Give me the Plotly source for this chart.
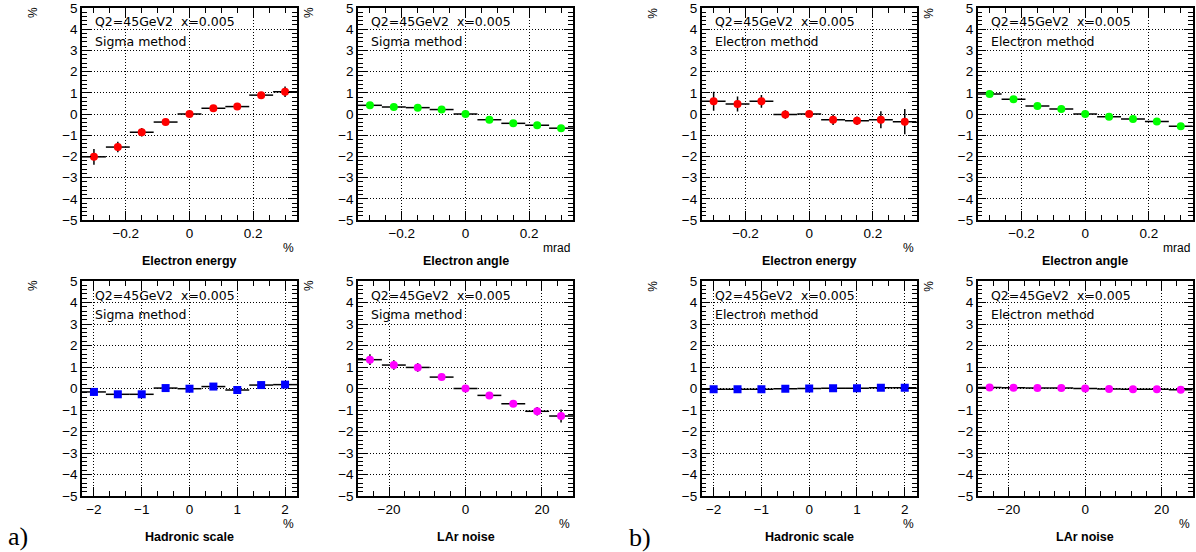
import plotly.graph_objects as go

W, H = 1196, 552

# ---------------- data ----------------
e_shift = [-0.3, -0.225, -0.15, -0.075, 0.0, 0.075, 0.15, 0.225, 0.3]
e_halfbin = [0.0375] * 9
h_shift = [-2.0, -1.5, -1.0, -0.5, 0.0, 0.5, 1.0, 1.5, 2.0]
h_halfbin = [0.25] * 9
n_shift = [-25.0, -18.75, -12.5, -6.25, 0.0, 6.25, 12.5, 18.75, 25.0]
n_halfbin = [3.125] * 9

sig_eenergy = [-2.02, -1.56, -0.86, -0.38, 0.0, 0.27, 0.35, 0.89, 1.05]
sig_eenergy_err = [0.37, 0.25, 0.2, 0.1, 0.03, 0.08, 0.08, 0.12, 0.25]
sig_eangle = [0.41, 0.33, 0.30, 0.21, 0.0, -0.27, -0.44, -0.53, -0.67]
sig_eangle_err = [0.06, 0.05, 0.05, 0.05, 0.02, 0.05, 0.05, 0.08, 0.1]
ele_eenergy = [0.60, 0.47, 0.60, -0.02, 0.0, -0.27, -0.32, -0.27, -0.36]
ele_eenergy_err = [0.45, 0.35, 0.3, 0.2, 0.05, 0.25, 0.2, 0.4, 0.6]
ele_eangle = [0.94, 0.70, 0.38, 0.24, 0.0, -0.13, -0.24, -0.35, -0.58]
ele_eangle_err = [0.12, 0.06, 0.05, 0.05, 0.02, 0.05, 0.05, 0.05, 0.08]

sig_hadr = [-0.16, -0.27, -0.27, 0.02, -0.01, 0.09, -0.07, 0.16, 0.18]
sig_hadr_err = [0.12, 0.1, 0.1, 0.08, 0.05, 0.08, 0.1, 0.15, 0.15]
sig_lar = [1.34, 1.09, 0.98, 0.53, 0.0, -0.32, -0.71, -1.06, -1.28]
sig_lar_err = [0.25, 0.22, 0.2, 0.1, 0.03, 0.15, 0.1, 0.2, 0.3]
ele_hadr = [-0.03, -0.03, -0.03, -0.01, 0.0, 0.01, 0.01, 0.03, 0.03]
ele_hadr_err = [0.02] * 9
ele_lar = [0.05, 0.03, 0.02, 0.02, 0.0, -0.02, -0.03, -0.04, -0.06]
ele_lar_err = [0.02] * 9

header = "Q2=45GeV2\u00a0\u00a0x=0.005"
y_ticks = [-5, -4, -3, -2, -1, 0, 1, 2, 3, 4, 5]

# panel layout in pixels: (left, top, height)
PW = 215
lefts = [82, 358, 701.7, 977.7]
tops = [8, 281]
heights = [212, 215]

panels = [
    (0, 0, e_shift, e_halfbin, sig_eenergy, sig_eenergy_err, "#ff0000", "circle", "Sigma method", "Electron energy", "%", 0.3375, 0.2, 0.05),
    (0, 1, e_shift, e_halfbin, sig_eangle, sig_eangle_err, "#00ff00", "circle", "Sigma method", "Electron angle", "mrad", 0.3375, 0.2, 0.05),
    (0, 2, e_shift, e_halfbin, ele_eenergy, ele_eenergy_err, "#ff0000", "circle", "Electron method", "Electron energy", "%", 0.3375, 0.2, 0.05),
    (0, 3, e_shift, e_halfbin, ele_eangle, ele_eangle_err, "#00ff00", "circle", "Electron method", "Electron angle", "mrad", 0.3375, 0.2, 0.05),
    (1, 0, h_shift, h_halfbin, sig_hadr, sig_hadr_err, "#0000ff", "square", "Sigma method", "Hadronic scale", "%", 2.25, 1, 1/3),
    (1, 1, n_shift, n_halfbin, sig_lar, sig_lar_err, "#ff00ff", "circle", "Sigma method", "LAr noise", "%", 28.125, 20, 4),
    (1, 2, h_shift, h_halfbin, ele_hadr, ele_hadr_err, "#0000ff", "square", "Electron method", "Hadronic scale", "%", 2.25, 1, 1/3),
    (1, 3, n_shift, n_halfbin, ele_lar, ele_lar_err, "#ff00ff", "circle", "Electron method", "LAr noise", "%", 28.125, 20, 4),
]

FONT = "Liberation Sans"
TFONT = "DejaVu Sans"
fig = go.Figure()
annotations = []

for i, (r, c, xs, hb, ys, es, col, sym, method, title, xunit, xr, major, minor) in enumerate(panels):
    n = i + 1
    xa = "x" if n == 1 else f"x{n}"
    ya = "y" if n == 1 else f"y{n}"
    L = lefts[c]
    T = tops[r]
    PH = heights[r]
    x0, x1 = L / W, (L + PW) / W
    y1, y0 = 1 - T / H, 1 - (T + PH) / H

    fig.add_trace(go.Scatter(
        x=xs, y=ys, mode="markers", xaxis=xa, yaxis=ya, showlegend=False,
        marker=dict(color=col, symbol=sym, size=8, line=dict(width=0)),
        error_x=dict(type="data", array=hb, color="black", thickness=1.5, width=0),
        error_y=dict(type="data", array=es, color="black", thickness=1.5, width=0),
    ))

    axcommon = dict(
        showline=True, linecolor="black", linewidth=1.5, mirror="ticks",
        ticks="inside", ticklen=9, tickwidth=1, tickcolor="black",
        showgrid=True, gridcolor="black", gridwidth=1, griddash="1px,2px",
        zeroline=False, automargin=False, ticklabeloverflow="allow",
        tickfont=dict(family=FONT, size=13.5, color="black"),
    )
    fig.layout[f"xaxis{'' if n == 1 else n}"] = dict(
        axcommon, domain=[x0, x1], anchor=ya, range=[-xr, xr],
        tick0=0, dtick=major,
        minor=dict(ticks="inside", ticklen=5, dtick=minor, tick0=0, tickcolor="black", showgrid=False),
    )
    fig.layout[f"yaxis{'' if n == 1 else n}"] = dict(
        axcommon, domain=[y0, y1], anchor=xa, range=[-5, 5],
        tickvals=y_ticks, ticktext=[("\u2212" + str(-v)) if v < 0 else str(v) for v in y_ticks],
        minor=dict(ticks="inside", ticklen=5, dtick=0.2, tick0=0, tickcolor="black", showgrid=False),
    )

    fs = dict(family=TFONT, size=12.5, color="black")
    annotations += [
        dict(text=header, xref="paper", yref="paper", x=(L + 11) / W, y=1 - (T + 14) / H,
             xanchor="left", yanchor="middle", showarrow=False, font=fs),
        dict(text=method, xref="paper", yref="paper", x=(L + 11) / W, y=1 - (T + 33) / H,
             xanchor="left", yanchor="middle", showarrow=False, font=fs),
        dict(text="%", xref="paper", yref="paper", x=(L - 49) / W, y=1 - (T + 5) / H,
             xanchor="center", yanchor="middle", showarrow=False, textangle=-90,
             font=dict(family=FONT, size=12, color="black")),
        dict(text=xunit, xref="paper", yref="paper", x=(L + PW - 1) / W, y=1 - (T + PH + 28) / H,
             xanchor="right", yanchor="middle", showarrow=False,
             font=dict(family=FONT, size=12, color="black")),
        dict(text="<b>" + title + "</b>", xref="paper", yref="paper", x=(L + PW / 2) / W,
             y=1 - (T + PH + 41) / H, xanchor="center", yanchor="middle", showarrow=False,
             font=dict(family=FONT, size=12.5, color="black")),
    ]

annotations += [
    dict(text="a)", xref="paper", yref="paper", x=6 / W, y=1 - 536 / H, xanchor="left",
         yanchor="middle", showarrow=False, font=dict(family="Liberation Serif", size=26, color="black")),
    dict(text="b)", xref="paper", yref="paper", x=627 / W, y=1 - 537 / H, xanchor="left",
         yanchor="middle", showarrow=False, font=dict(family="Liberation Serif", size=26, color="black")),
]

fig.update_layout(
    width=W, height=H, margin=dict(l=0, r=0, t=0, b=0, autoexpand=False),
    paper_bgcolor="white", plot_bgcolor="white",
    annotations=annotations, showlegend=False,
)

fig.write_html("out.html", config={"displayModeBar": False},
               post_script="document.body.style.margin='0';document.body.style.overflow='hidden';")
